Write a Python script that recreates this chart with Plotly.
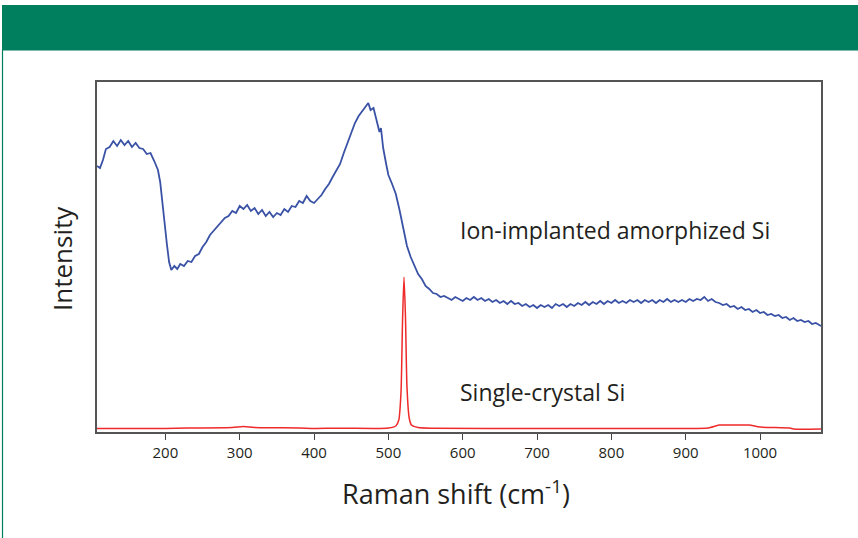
import plotly.graph_objects as go

# Ion-implanted amorphized Si (arbitrary intensity units), low-shift part
amorph_shift_low = [108,112,116,120,125,130,135,140,145,150,155,160,165,170,175,180,185,190,193,196,
                    199,202,205,208,212,216,220,225,230,235,240,245,250,255,260,265,270,275,280,285,
                    290,295,300,305,310,315,320,325,330,335,340,345,350,355,360,365,370,375,380,385,
                    390,395,400,405,410,415,420,425,430,435,440,445,450,455,460,465,470,473,476,480,
                    484,488,490,493,497,500,505,510,515,520,525,530,535,540,545,550,555,560,565,570,
                    575]
amorph_int_low = [266,264,272,283,285,291,286,292,287,291,285,289,284,283,278,279,271,262,250,228,
                  205,188,170,162,166,163,168,166,171,170,176,178,185,190,197,201,206,209,214,216,
                  221,219,226,223,227,221,224,218,222,216,220,215,219,217,223,220,226,225,231,229,
                  236,231,229,233,237,243,248,255,262,268,279,289,298,309,316,321,326,329,322,324,
                  312,300,304,284,268,257,248,238,222,204,186,175,166,158,153,146,143,139,138,135,
                  136]

# Ion-implanted amorphized Si, high-shift part
amorph_shift_high = [580,585,590,595,600,605,610,615,620,625,630,635,640,645,650,655,660,665,670,675,
                     680,685,690,695,700,705,710,715,720,725,730,735,740,745,750,755,760,765,770,775,
                     780,785,790,795,800,805,810,815,820,825,830,835,840,845,850,855,860,865,870,875,
                     880,885,890,895,900,905,910,915,920,925,930,935,940,945,950,955,960,965,970,975,
                     980,985,990,995,1000,1005,1010,1015,1020,1025,1030,1035,1040,1045,1050,1055,1060,1065,1070,1075,
                     1082]
amorph_int_high = [134,132,135,133,131,134,132,135,132,134,131,133,130,132,129,131,128,131,128,129,
                   126,128,125,127,124,127,125,127,124,128,126,128,125,128,126,129,127,130,127,130,
                   128,131,128,131,129,132,129,131,129,132,130,132,129,132,130,132,129,132,130,133,
                   130,132,130,132,130,133,131,133,132,135,131,133,130,129,127,128,125,126,123,125,
                   122,123,120,122,119,120,117,118,116,117,114,115,112,114,111,112,110,111,108,109,
                   106]

# Single-crystal Si
crystal_shift = [108,200,230,290,305,320,380,400,430,480,500,510,514,517,519,521,523,525,528,531,
                 540,560,700,900,930,945,960,985,1000,1040,1045,1082]
crystal_int = [3.5,3.5,4,4.5,5.5,4.5,4,3.5,3.8,3.5,4,6,12,40,110,155,115,45,14,7,
               4.5,3.8,3.5,3.5,4,7,7,7,5,4,3,3]

x_ticks = [200,300,400,500,600,700,800,900,1000]

GREEN = "#007F5F"
TXT = "#231F20"
FONT = "Open Sans"

fig = go.Figure()
fig.add_trace(go.Scatter(x=amorph_shift_low + amorph_shift_high,
                         y=amorph_int_low + amorph_int_high, mode="lines",
                         line=dict(color="#3A52A6", width=1.8), showlegend=False))
fig.add_trace(go.Scatter(x=crystal_shift, y=crystal_int, mode="lines",
                         line=dict(color="#EE2A2A", width=1.5, shape="spline", smoothing=0.6),
                         showlegend=False))

PX_L, PX_R, PX_T, PX_B = 97, 821, 82, 432
W, H = 858, 538
def px(x):
    return (x - PX_L) / (PX_R - PX_L)
def py(y):
    return (PX_B - y) / (PX_B - PX_T)

shapes = [
    dict(type="rect", xref="paper", yref="paper", x0=px(2), x1=px(860), y0=py(50.5), y1=py(5),
         fillcolor=GREEN, line=dict(width=0), layer="above"),
    dict(type="line", xref="paper", yref="paper", x0=px(2.5), x1=px(2.5), y0=py(50), y1=py(540),
         line=dict(color=GREEN, width=1.2)),
]

annotations = [
    dict(text="Ion-implanted amorphized Si", xref="paper", yref="paper", x=px(458), y=py(230),
         xanchor="left", yanchor="middle", showarrow=False, font=dict(size=23, color=TXT, family=FONT)),
    dict(text="Single-crystal Si", xref="paper", yref="paper", x=px(458), y=py(392),
         xanchor="left", yanchor="middle", showarrow=False, font=dict(size=23, color=TXT, family=FONT)),
    dict(text="Raman shift (cm<sup>-1</sup>)", xref="paper", yref="paper", x=px(456), y=py(492),
         xanchor="center", yanchor="middle", showarrow=False, font=dict(size=27, color=TXT, family=FONT)),
    dict(text="Intensity", xref="paper", yref="paper", x=px(62), y=py(259), textangle=-90,
         xanchor="center", yanchor="middle", showarrow=False, font=dict(size=26, color=TXT, family=FONT)),
]

fig.update_layout(
    width=W, height=H,
    margin=dict(l=PX_L, r=W - PX_R, t=PX_T, b=H - PX_B),
    paper_bgcolor="white", plot_bgcolor="white",
    shapes=shapes, annotations=annotations,
    xaxis=dict(range=[108, 1082], tickvals=x_ticks, ticks="outside", ticklen=6, tickwidth=1,
               tickcolor="#444", showline=True, linecolor="#555", linewidth=1.5, mirror=True,
               showgrid=False, zeroline=False,
               tickfont=dict(size=15, color=TXT, family=FONT)),
    yaxis=dict(range=[0, 350], showticklabels=False, ticks="", showline=True, linecolor="#555",
               linewidth=1.5, mirror=True, showgrid=False, zeroline=False),
)

fig.write_html("out.html", config={"displayModeBar": False},
               post_script="document.body.style.margin='0';")
